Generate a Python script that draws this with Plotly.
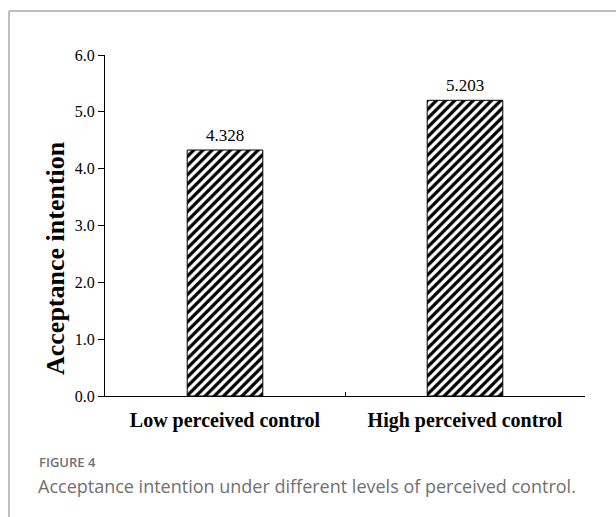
import plotly.graph_objects as go

categories = ["Low perceived control", "High perceived control"]
values = [4.328, 5.203]
value_labels = ["4.328", "5.203"]
y_ticks = [0, 1, 2, 3, 4, 5, 6]
y_title = "Acceptance intention"
fig_label = "FIGURE 4"
caption = "Acceptance intention under different levels of perceived control."

W, H = 616, 517
L, R, T, B = 105, 585, 55, 396  # plot area in pixels

def px(x):
    return (x - L) / (R - L)

def py(y):
    return (B - y) / (B - T)

fig = go.Figure()
fig.add_trace(go.Bar(
    x=categories,
    y=values,
    width=0.315,
    marker=dict(
        color="white",
        line=dict(color="black", width=1),
        pattern=dict(shape="/", fgcolor="#000000", fgopacity=1, bgcolor="white",
                     size=6.5, solidity=0.5),
    ),
))

for c, v, t in zip(categories, values, value_labels):
    fig.add_annotation(x=c, y=v, text=t, showarrow=False,
                       xanchor="center", yanchor="bottom", yshift=3,
                       font=dict(family="Liberation Serif", size=17, color="#000"))

fig.update_layout(
    width=W, height=H,
    margin=dict(l=L, r=W - R, t=T, b=H - B, autoexpand=False),
    paper_bgcolor="white", plot_bgcolor="white",
    showlegend=False,
    font=dict(family="Liberation Serif", color="#000"),
    xaxis=dict(
        type="category",
        showline=True, linecolor="#000", linewidth=1,
        ticks="inside", ticklen=4, tickcolor="#000", tickson="boundaries",
        showgrid=False,
        tickmode="array", tickvals=categories,
        ticktext=["<b>%s</b>" % c for c in categories],
        tickfont=dict(family="Liberation Serif", size=20, color="#000"),
        ticklabelstandoff=6,
    ),
    yaxis=dict(
        range=[0, 6],
        tickvals=y_ticks, tickformat=".1f",
        showline=True, linecolor="#000", linewidth=1,
        ticks="outside", ticklen=6, tickcolor="#000",
        showgrid=False, zeroline=False,
        tickfont=dict(family="Liberation Serif", size=16, color="#000"),
    ),
)

# y-axis title (placed as in the reference, slightly below the axis middle)
fig.add_annotation(text="<b>%s</b>" % y_title, xref="paper", yref="paper",
                   x=px(55), y=py(258), xanchor="center", yanchor="middle",
                   textangle=-90, showarrow=False,
                   font=dict(family="Liberation Serif", size=26, color="#000"))

# frame around the figure panel
fig.add_shape(type="line", xref="paper", yref="paper",
              x0=px(9), x1=px(616), y0=py(11), y1=py(11),
              line=dict(color="#aaaaaa", width=1.5))
fig.add_shape(type="line", xref="paper", yref="paper",
              x0=px(9), x1=px(9), y0=py(11), y1=py(517),
              line=dict(color="#aaaaaa", width=1.5))

fig.add_annotation(text=fig_label, xref="paper", yref="paper",
                   x=px(37), y=py(462), xanchor="left", yanchor="middle",
                   showarrow=False,
                   font=dict(family="Open Sans", size=13, color="#707070", weight=600))
fig.add_annotation(text=caption, xref="paper", yref="paper",
                   x=px(36), y=py(486), xanchor="left", yanchor="middle",
                   showarrow=False,
                   font=dict(family="Open Sans", size=18, color="#707070"))

fig.write_html("out.html", config={"displayModeBar": False},
               post_script="document.body.style.margin='0';")
